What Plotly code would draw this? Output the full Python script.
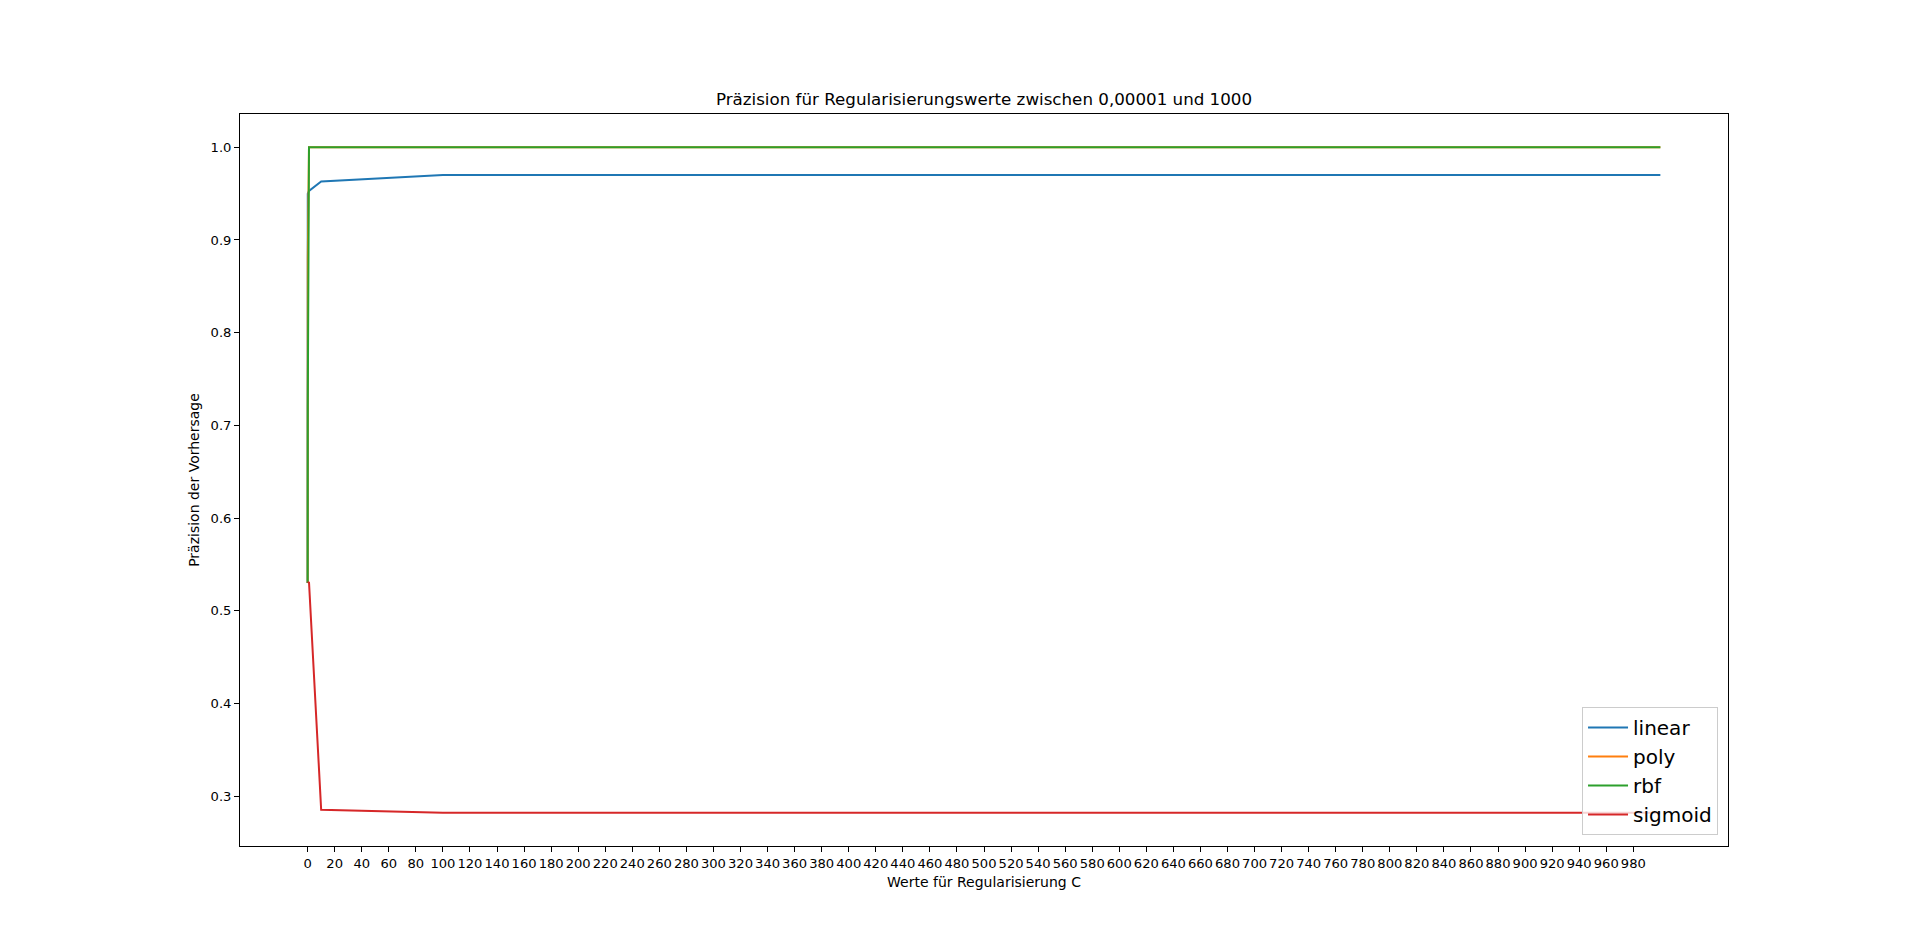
import plotly.graph_objects as go

# Regularisation values C
c_values = [0.00001, 0.0001, 0.001, 0.01, 0.1, 1, 10, 100, 1000]

# Precision per kernel
linear = [0.53, 0.53, 0.72, 0.88, 0.95, 0.953, 0.963, 0.97, 0.97]
poly = [0.53, 0.53, 0.53, 0.53, 0.88, 1.0, 1.0, 1.0, 1.0]
rbf = [0.53, 0.53, 0.53, 0.53, 0.72, 1.0, 1.0, 1.0, 1.0]
sigmoid = [0.53, 0.53, 0.53, 0.53, 0.53, 0.531, 0.2853, 0.282, 0.282]

series_names = ["linear", "poly", "rbf", "sigmoid"]
series_values = [linear, poly, rbf, sigmoid]
colors = ["#1f77b4", "#ff7f0e", "#2ca02c", "#d62728"]

x_ticks = list(range(0, 1000, 20))
y_ticks = [0.3, 0.4, 0.5, 0.6, 0.7, 0.8, 0.9, 1.0]

fig = go.Figure()
for name, vals, col in zip(series_names, series_values, colors):
    fig.add_trace(go.Scatter(x=c_values, y=vals, mode="lines", name=name,
                             line=dict(color=col, width=2)))

all_y = [v for s in series_values for v in s]
ymin, ymax = min(all_y), max(all_y)
ypad = (ymax - ymin) * 0.05
xmin, xmax = min(c_values), max(c_values)
xpad = (xmax - xmin) * 0.05

font = "DejaVu Sans"
fig.update_layout(
    width=1920, height=950,
    margin=dict(l=240, r=192, t=114, b=104),
    paper_bgcolor="white", plot_bgcolor="white",
    font=dict(family=font, color="black", size=14),
    title=dict(text="Präzision für Regularisierungswerte zwischen 0,00001 und 1000",
               x=0.5, xref="paper", xanchor="center",
               y=1 - 99 / 950, yref="container", yanchor="middle",
               font=dict(size=16.7, family=font, color="black")),
    showlegend=True,
    legend=dict(x=0.9933, y=0.015, xanchor="right", yanchor="bottom",
                bgcolor="rgba(255,255,255,0.8)", bordercolor="#cccccc", borderwidth=1,
                font=dict(size=20, family=font, color="black"),
                tracegroupgap=0, itemwidth=40),
)
fig.update_xaxes(
    range=[xmin - xpad, xmax + xpad],
    tickmode="array", tickvals=x_ticks, ticktext=[str(t) for t in x_ticks],
    ticks="outside", ticklen=5, tickwidth=1, tickcolor="black",
    showline=True, linecolor="black", linewidth=1, mirror=True,
    showgrid=False, zeroline=False, tickangle=0,
    tickfont=dict(size=13.1, family=font),
    title=dict(text="Werte für Regularisierung C", standoff=7,
               font=dict(size=14, family=font)),
)
fig.update_yaxes(
    range=[ymin - ypad, ymax + ypad],
    tickmode="array", tickvals=y_ticks, ticktext=[f"{t:.1f}" for t in y_ticks],
    ticks="outside", ticklen=5, tickwidth=1, tickcolor="black",
    showline=True, linecolor="black", linewidth=1, mirror=True,
    showgrid=False, zeroline=False,
    tickfont=dict(size=13.1, family=font),
    title=dict(text="Präzision der Vorhersage", standoff=7,
               font=dict(size=14, family=font)),
)

fig.write_html("out.html")
